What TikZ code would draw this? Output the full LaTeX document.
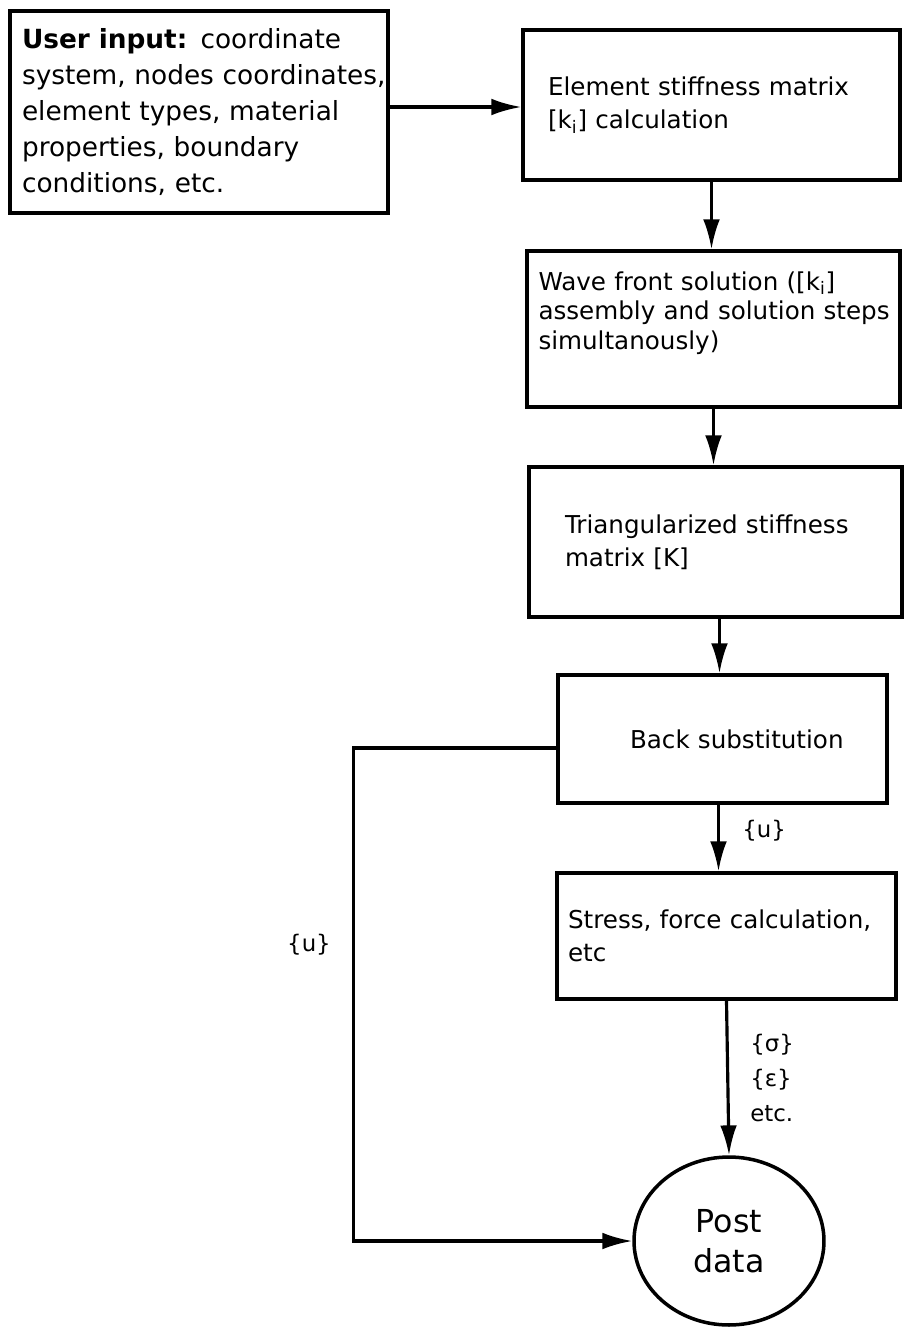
\documentclass[tikz,border=0pt]{standalone}
\usepackage{fontspec}
\setmainfont{DejaVu Sans}
\usetikzlibrary{positioning, arrows.meta, shapes.geometric}

\begin{document}
\begin{tikzpicture}[x=0.02cm, y=-0.02cm,
        procbox/.style={draw, line width=2pt, align=left, inner sep=0pt,
                        font=\fontsize{14}{19}\selectfont},
        arr/.style={line width=1.8pt, -{Latex[length=17pt, width=9.5pt]}},
        lbl/.style={align=left, inner sep=0pt, font=\fontsize{13}{20}\selectfont}]
      \useasboundingbox (0,0) rectangle (903,1329);
      \node[procbox, minimum width=7.56cm, minimum height=4.04cm, text width=7.08cm,
            font=\fontsize{15}{20.5}\selectfont] (input) at (199,112)
           {\textbf{User input:} coordinate\\ \mbox{system, nodes coordinates,}\\ element types, material\\ properties, boundary\\ conditions, etc.};
      \node[procbox, minimum width=7.54cm, minimum height=3.0cm, text width=6.54cm] (elem) at (711.5,105)
           {Element stiffness matrix\\ {[}k\textsubscript{i}{]} calculation};
      \node[procbox, minimum width=7.46cm, minimum height=3.12cm, text width=7.0cm,
            font=\fontsize{14}{17}\selectfont, text depth=55pt] (wave) at (713.5,329)
           {Wave front solution ({[}k\textsubscript{i}{]}\\ \mbox{assembly and solution steps}\\ simultanously)};
      \node[procbox, minimum width=7.46cm, minimum height=3.0cm, text width=6.02cm] (tri) at (715.5,542)
           {Triangularized stiffness\\ matrix {[}K{]}};
      \node[procbox, minimum width=6.58cm, minimum height=2.56cm, text width=3.7cm] (back) at (722.5,739)
           {\mbox{Back substitution}};
      \node[procbox, minimum width=6.78cm, minimum height=2.52cm, text width=6.34cm] (stress) at (726.5,936)
           {Stress, force calculation,\\ etc};
      \node[draw, ellipse, line width=2pt, minimum width=3.8cm, minimum height=3.36cm, align=center,
            inner sep=0pt, font=\fontsize{18}{23}\selectfont] (post) at (729,1241)
           {Post\\ data};
      \node[lbl, anchor=west] (ubs) at (742,831) {\{u\}};
      \node[lbl] (ufb) at (309,945) {\{u\}};
      \node[lbl, anchor=west] (sig) at (750,1078) {\{σ\}\\ \{ε\}\\ etc.};
      \draw[arr] ([yshift=0.1cm]input.east) -- ([yshift=0.1cm]input.east -| elem.west);
      \draw[arr] (elem.south) -- (elem.south |- wave.north);
      \draw[arr] (wave.south) -- (wave.south |- tri.north);
      \draw[arr] ([xshift=0.08cm]tri.south) -- ([xshift=0.08cm]tri.south |- back.north);
      \draw[arr] ([xshift=-0.08cm]back.south) -- ([xshift=-0.08cm]back.south |- stress.north);
      \draw[arr] (stress.south) -- (post.north);
      \draw[arr] ([yshift=-0.18cm]back.west) -- ++(-203,0) |- (post.west);
    \end{tikzpicture}
\end{document}
